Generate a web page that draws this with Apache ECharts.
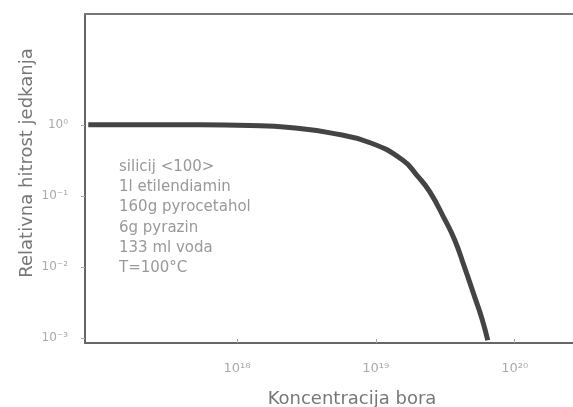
<!DOCTYPE html>
<html>
<head>
<meta charset="utf-8">
<script src="https://cdn.jsdelivr.net/npm/echarts@6/dist/echarts.min.js"></script>
<style>
  html, body { margin: 0; padding: 0; background: #fff; }
  #chart { width: 573px; height: 407px; }
</style>
</head>
<body>
<div id="chart"></div>
<script>
// boron concentration (cm^-3) and relative etch rate
const concentration = [8.5e16, 2.4e17, 5.4e17, 1.24e18, 2.4e18, 4.7e18, 9.1e18, 1.56e19,
  2.0e19, 2.45e19, 3.13e19, 3.7e19, 4.37e19, 5.15e19, 5.8e19, 6.4e19];
const etchRate = [1, 1, 1, 0.98, 0.92, 0.77, 0.56, 0.32,
  0.19, 0.114, 0.047, 0.024, 0.0097, 0.0038, 0.0019, 0.00093];

// axis decades (log10) and their labels
const xTicks = [18, 19, 20];
const xTickLabels = ['10¹⁸', '10¹⁹', '10²⁰'];
const yTicks = [0, -1, -2, -3];
const yTickLabels = ['10⁰', '10⁻¹', '10⁻²', '10⁻³'];

const recipe = ['silicij <100>', '1l etilendiamin', '160g pyrocetahol', '6g pyrazin', '133 ml voda', 'T=100°C'];

const chart = echarts.init(document.getElementById('chart'));

const points = concentration.map((c, i) => [Math.log10(c), Math.log10(etchRate[i])]);

const font = 'DejaVu Sans, sans-serif';

let option = {
  animation: false,
  grid: { left: 85, right: 0, top: 14, bottom: 64 },
  xAxis: [
    {
      type: 'value',
      min: 16.906,
      max: 20.42,
      splitLine: { show: false },
      axisLine: { onZero: false, lineStyle: { color: '#666', width: 2 } },
      axisTick: {
        inside: true,
        length: 4,
        customValues: xTicks,
        lineStyle: { color: '#aaa' }
      },
      axisLabel: {
        customValues: xTicks,
        margin: 19,
        color: '#aaa',
        fontSize: 13,
        fontFamily: font,
        formatter: v => xTickLabels[xTicks.indexOf(Math.round(v))]
      }
    },
    {
      type: 'value',
      position: 'top',
      min: 16.906,
      max: 20.42,
      splitLine: { show: false },
      axisLine: { onZero: false, lineStyle: { color: '#777', width: 2 } },
      axisTick: { show: false },
      axisLabel: { show: false }
    }
  ],
  yAxis: {
    type: 'value',
    min: -3.07,
    max: 1.56,
    splitLine: { show: false },
    axisLine: { onZero: false, lineStyle: { color: '#666', width: 2 } },
    axisTick: {
      length: 4,
      customValues: yTicks,
      lineStyle: { color: '#aaa' }
    },
    axisLabel: {
      customValues: yTicks,
      margin: 17,
      color: '#aaa',
      fontSize: 12,
      fontFamily: font,
      formatter: v => yTickLabels[yTicks.indexOf(Math.round(v))]
    }
  },
  graphic: [
    {
      type: 'text',
      rotation: Math.PI / 2,
      x: 27,
      y: 163,
      style: {
        text: 'Relativna hitrost jedkanja',
        fill: '#777',
        font: '18px ' + font,
        textAlign: 'center',
        textVerticalAlign: 'middle'
      }
    },
    {
      type: 'text',
      x: 352,
      y: 399,
      style: {
        text: 'Koncentracija bora',
        fill: '#777',
        font: '18px ' + font,
        textAlign: 'center',
        textVerticalAlign: 'middle'
      }
    },
    {
      type: 'text',
      x: 119,
      y: 157,
      style: {
        text: recipe.join('\n'),
        fill: '#999',
        font: '15px ' + font,
        lineHeight: 20.2
      }
    }
  ],
  series: [
    {
      type: 'line',
      data: points,
      smooth: 0.5,
      showSymbol: false,
      lineStyle: { color: '#444', width: 5 }
    }
  ]
};

chart.setOption(option);
</script>
</body>
</html>
